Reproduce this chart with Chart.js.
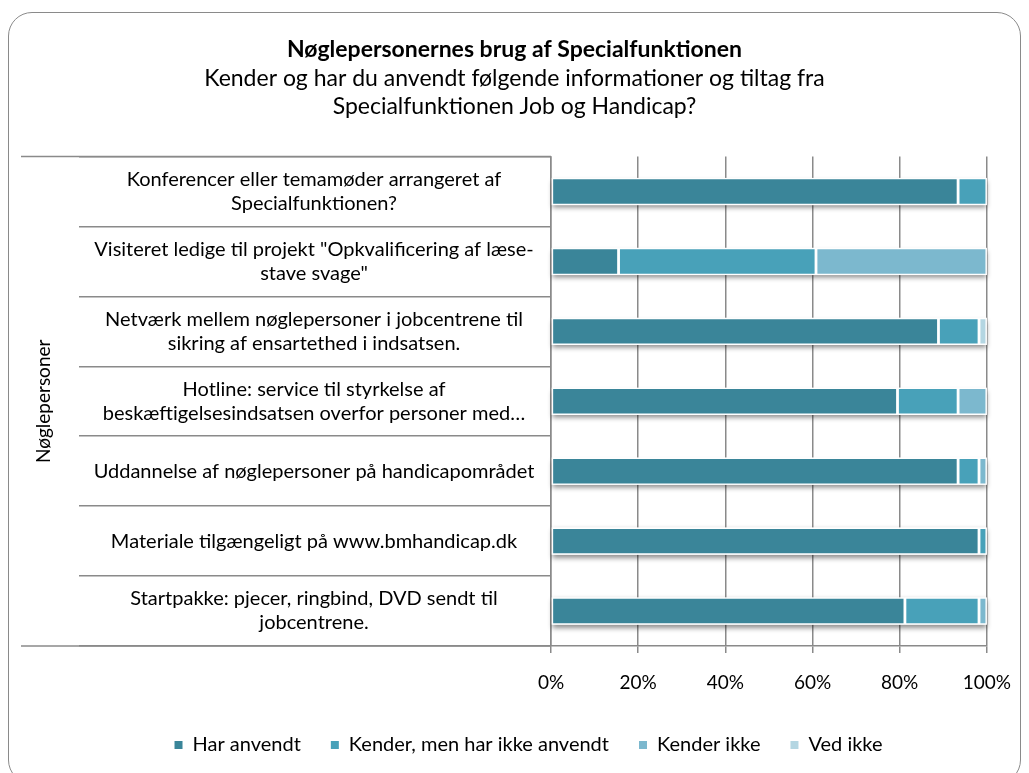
<!DOCTYPE html>
<html>
<head>
    <meta charset="utf-8">
    <script src="https://cdn.jsdelivr.net/npm/chart.js"></script>
    <title>Nøglepersonernes brug af Specialfunktionen</title>
    <style>
      * {
        margin: 0;
        padding: 0;
      }
      body {
        background: #fff;
      }
      .chartCard {
        position: relative;
        width: 1029px;
        height: 773px;
        overflow: hidden;
      }
      .frame {
        position: absolute;
        left: 8px;
        top: 12px;
        width: 1011px;
        height: 770px;
        border: 1.5px solid #8a8a8a;
        border-radius: 24px;
        pointer-events: none;
      }
      #chart {
        position: absolute;
        left: 0;
        top: 0;
      }
    </style>
</head>
<body>
    <div class="chartCard">
        <canvas id="chart" width="1029" height="773"></canvas>
        <div class="frame"></div>
    </div>
<script>
    // categories, top to bottom
    const categories = [
        ['Konferencer eller temamøder arrangeret af', 'Specialfunktionen?'],
        ['Visiteret ledige til projekt "Opkvalificering af læse-', 'stave svage"'],
        ['Netværk mellem nøglepersoner i jobcentrene til', 'sikring af ensartethed i indsatsen.'],
        ['Hotline: service til styrkelse af', 'beskæftigelsesindsatsen overfor personer med…'],
        'Uddannelse af nøglepersoner på handicapområdet',
        'Materiale tilgængeligt på www.bmhandicap.dk',
        ['Startpakke: pjecer, ringbind, DVD sendt til', 'jobcentrene.']
    ];

    // percent of answers
    const harAnvendt    = [93.4, 15.5, 88.9, 79.5, 93.4, 98.2, 81.2];
    const kenderIkkeAnv = [6.6, 45.3, 9.3, 13.9, 4.8, 1.8, 17.0];
    const kenderIkke    = [null, 39.2, null, 6.6, 1.8, null, 1.8];
    const vedIkke       = [null, null, 1.8, null, null, null, null];

    const xTicks = [0, 20, 40, 60, 80, 100];

    const FONT = 'Lato';
    const labelFont = { family: FONT, size: 20 };

    // measure widest label line so the centred labels sit next to the axis
    const mctx = document.createElement('canvas').getContext('2d');
    mctx.font = '20px ' + FONT;
    let widest = 0;
    categories.forEach(function(c) {
        [].concat(c).forEach(function(line) {
            widest = Math.max(widest, mctx.measureText(line).width);
        });
    });
    const tickLen = 472;
    const labelCenterGap = 237;   // distance from axis to label centre
    const tickPad = labelCenterGap - tickLen - widest / 2;

    // soft shadow under each stacked bar
    const barShadow = {
        id: 'barShadow',
        beforeDatasetsDraw(chart) {
            const ctx = chart.ctx;
            const first = chart.getDatasetMeta(0).data;
            ctx.save();
            ctx.shadowColor = 'rgba(0,0,0,0.45)';
            ctx.shadowBlur = 5;
            ctx.shadowOffsetY = 3;
            ctx.fillStyle = '#ffffff';
            first.forEach(function(bar, i) {
                let end = bar.x;
                chart.data.datasets.forEach(function(ds, d) {
                    const el = chart.getDatasetMeta(d).data[i];
                    if (ds.data[i] != null) end = Math.max(end, el.x);
                });
                const h = bar.height;
                ctx.fillRect(bar.base, bar.y - h / 2, end - bar.base, h);
            });
            ctx.restore();
        }
    };

    // outer category lines reaching out to the axis title
    const outerLines = {
        id: 'outerLines',
        afterDraw(chart) {
            const ctx = chart.ctx;
            const y = chart.scales.y;
            const area = chart.chartArea;
            ctx.save();
            ctx.strokeStyle = '#8a8a8a';
            ctx.lineWidth = 1.5;
            [area.top, area.bottom].forEach(function(py) {
                ctx.beginPath();
                ctx.moveTo(y.left, py);
                ctx.lineTo(area.left, py);
                ctx.stroke();
            });
            ctx.restore();
        }
    };

    // legend and titles sit a little right of centre in the original
    const boxShift = {
        id: 'boxShift',
        afterLayout(chart) {
            chart.legend.left += 24;
            chart.legend.right += 24;
            chart.boxes.forEach(function(b) {
                if (b.options && b.options.text && b.position === 'top') {
                    b.left += 10;
                    b.right += 10;
                }
            });
        }
    };

    const colors = ['#3a8599', '#48a1b9', '#7cb8ce', '#b4d6e2'];

    const data = {
        labels: categories,
        datasets: [
            { label: 'Har anvendt', data: harAnvendt, backgroundColor: colors[0] },
            { label: 'Kender, men har ikke anvendt', data: kenderIkkeAnv, backgroundColor: colors[1] },
            { label: 'Kender ikke', data: kenderIkke, backgroundColor: colors[2] },
            { label: 'Ved ikke', data: vedIkke, backgroundColor: colors[3] }
        ].map(function(ds) {
            ds.borderColor = '#ffffff';
            ds.borderWidth = 1.4;
            ds.borderSkipped = false;
            ds.categoryPercentage = 1;
            ds.barPercentage = 0.39;
            return ds;
        })
    };

    const config = {
        type: 'bar',
        data,
        plugins: [barShadow, outerLines, boxShift],
        options: {
            indexAxis: 'y',
            responsive: false,
            animation: false,
            layout: {
                padding: { left: 21, right: 41, top: 0, bottom: 8 }
            },
            plugins: {
                title: {
                    display: true,
                    text: 'Nøglepersonernes brug af Specialfunktionen',
                    color: '#000',
                    font: { family: FONT, size: 23, weight: 'bold', lineHeight: 1.2 },
                    padding: { top: 36, bottom: 0 }
                },
                subtitle: {
                    display: true,
                    text: ['Kender og har du anvendt følgende informationer og tiltag fra',
                           'Specialfunktionen Job og Handicap?'],
                    color: '#000',
                    font: { family: FONT, size: 23, lineHeight: 1.26 },
                    padding: { top: 0, bottom: 35 }
                },
                legend: {
                    position: 'bottom',
                    labels: {
                        color: '#000',
                        font: { family: FONT, size: 20 },
                        boxWidth: 8,
                        boxHeight: 8,
                        padding: 30,
                        generateLabels(chart) {
                            const items = Chart.defaults.plugins.legend.labels.generateLabels(chart);
                            items.forEach(function(it) { it.lineWidth = 0; });
                            return items;
                        }
                    }
                },
                tooltip: { enabled: false }
            },
            scales: {
                x: {
                    stacked: true,
                    min: 0,
                    max: 100,
                    afterBuildTicks(scale) {
                        scale.ticks = xTicks.map(function(v) { return { value: v }; });
                    },
                    afterFit(scale) {
                        scale.height = 59;
                    },
                    ticks: {
                        color: '#000',
                        font: { family: FONT, size: 19 },
                        padding: 18,
                        callback: function(v) { return v + '%'; }
                    },
                    grid: {
                        color: '#8a8a8a',
                        lineWidth: 1.5,
                        tickLength: 7
                    },
                    border: { color: '#8a8a8a', width: 1.5 }
                },
                y: {
                    stacked: true,
                    afterFit(scale) {
                        scale.width = 530;
                    },
                    title: {
                        display: true,
                        text: 'Nøglepersoner',
                        color: '#000',
                        font: { family: FONT, size: 19 },
                        padding: { top: 11, bottom: 0 }
                    },
                    ticks: {
                        color: '#000',
                        font: labelFont,
                        crossAlign: 'center',
                        padding: tickPad
                    },
                    grid: {
                        drawOnChartArea: false,
                        color: '#8a8a8a',
                        lineWidth: 1.5,
                        tickLength: tickLen
                    },
                    border: { color: '#8a8a8a', width: 1.5 }
                }
            }
        }
    };
</script>
<script>
    const chart = new Chart(document.getElementById('chart'), config);
</script>
</body>
</html>
